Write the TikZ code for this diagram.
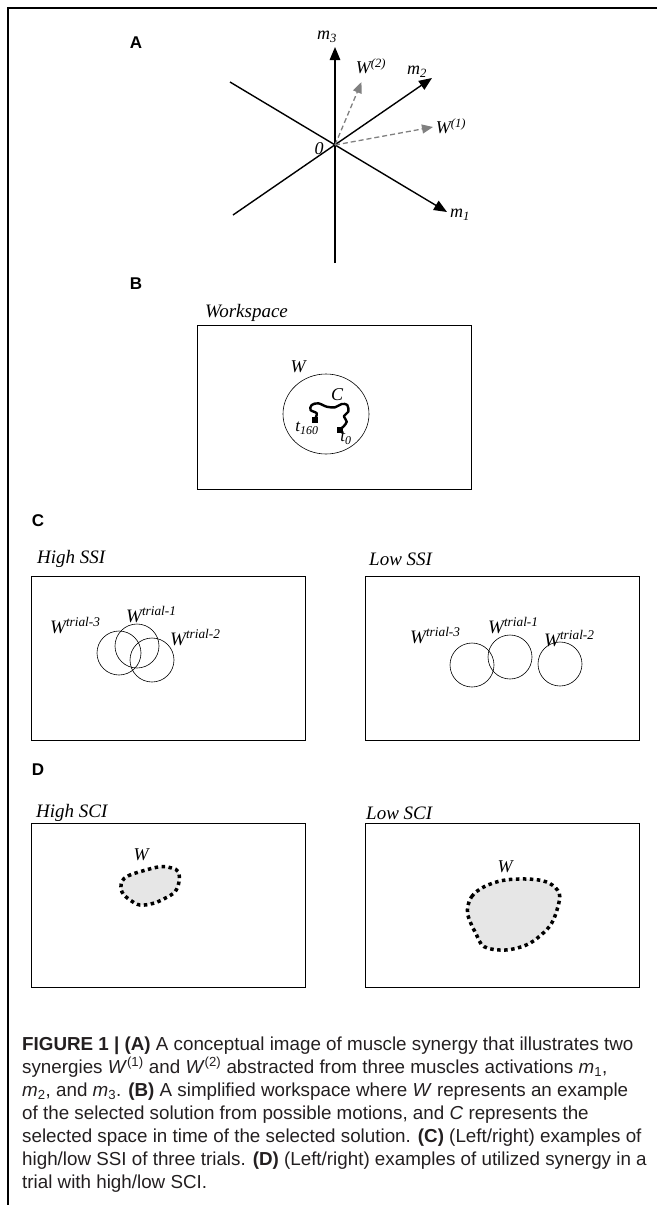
\documentclass[tikz,border=0pt]{standalone}
\usepackage{fontspec}
\setmainfont{Liberation Serif}
\setsansfont{Liberation Sans}
\usetikzlibrary{arrows.meta,shapes.geometric}
\definecolor{capgray}{HTML}{231F20}
\definecolor{blobfill}{HTML}{E6E6E6}
\definecolor{dashgray}{HTML}{808080}
\tikzset{
  lbl/.style={font=\fontsize{18}{20}\selectfont\itshape, inner sep=0pt},
  ttl/.style={font=\fontsize{19}{22}\selectfont\itshape, inner sep=0pt, anchor=west},
  panel/.style={font=\fontsize{17}{20}\selectfont\sffamily\bfseries, inner sep=0pt},
  axisarrow/.style={line width=1.4pt, -{Triangle[length=13pt,width=10.5pt]}},
  synarrow/.style={line width=1.3pt, draw=dashgray, dash pattern=on 5pt off 3pt, -{Triangle[length=11pt,width=9pt,fill=dashgray]}},
  boxst/.style={draw, line width=1.1pt, anchor=north west, minimum width=274pt, minimum height=164pt, inner sep=0pt},
  trialcirc/.style={draw, circle, line width=0.6pt, minimum size=44pt, inner sep=0pt},
  captxt/.style={font=\fontsize{18.8}{20}\selectfont\sffamily, text=capgray, anchor=base west, inner sep=0pt},
  blobst/.style={fill=blobfill, draw=black, line width=3.5pt, dash pattern=on 3.5pt off 3.5pt},
  sq/.style={fill=black, minimum size=5.5pt, inner sep=0pt}
}
\begin{document}
\begin{tikzpicture}[x=1pt,y=-1pt]
\useasboundingbox (0,0) rectangle (657,1205);
% frame
\coordinate (fTR) at (657,8);
\coordinate (fTL) at (8,8);
\coordinate (fBL) at (8,1205);
\draw[line width=2.2pt] (fTR) -- (fTL) -- (fBL);

% ---------------- Panel A
\node[panel] (labA) at (136,43) {A};
\coordinate (O) at (335,145);
\coordinate (m3b) at (335,263);
\coordinate (m3t) at (335,47);
\coordinate (m2b) at (233,215);
\coordinate (m2t) at (432,78);
\coordinate (m1b) at (230,82);
\coordinate (m1t) at (447,212);
\coordinate (w2t) at (361.5,82);
\coordinate (w1t) at (433,127);
\draw[axisarrow] (m3b) -- (m3t);
\draw[axisarrow] (m2b) -- (m2t);
\draw[axisarrow] (m1b) -- (m1t);
\draw[synarrow] (O) -- (w2t);
\draw[synarrow] (O) -- (w1t);
\node[lbl] (lm3) at (327,37) {m\textsubscript{3}};
\node[lbl] (lm2) at (417,72) {m\textsubscript{2}};
\node[lbl] (lm1) at (460,215) {m\textsubscript{1}};
\node[lbl] (lw2) at (371,66) {W\textsuperscript{(2)}};
\node[lbl] (lw1) at (451,126) {W\textsuperscript{(1)}};
\node[lbl] (l0) at (319,149) {0};

% ---------------- Panel B
\node[panel] (labB) at (136,284) {B};
\node[ttl] (tws) at (205,313) {Workspace};
\node[boxst] (boxB) at (197,325) {};
\node[draw, ellipse, line width=0.6pt, minimum width=86pt, minimum height=80pt, inner sep=0pt] (ellW) at (326,414) {};
\node[lbl] (lWB) at (298,367) {W};
\node[lbl] (lCB) at (337,395) {C};
\node[sq] (s160) at (315,420) {};
\node[sq] (s0) at (340,430) {};
\draw[line width=2.4pt, line cap=round, line join=round] plot[smooth, tension=0.55] coordinates {(315,419) (316.7,413.3) (310.5,410) (311.7,405) (318.3,403.3) (326.7,406.7) (335,407.3) (341.7,404) (347.3,405) (348.3,411.7) (344,416) (346.7,421.7) (343.3,426.7) (340,429.3)};
\node[lbl, font=\fontsize{17}{20}\selectfont\itshape] (lt160) at (307,428) {t\textsubscript{160}};
\node[lbl, font=\fontsize{17}{20}\selectfont\itshape] (lt0) at (346,438) {t\textsubscript{0}};

% ---------------- Panel C
\node[panel] (labC) at (38,521) {C};
\node[ttl] (thssi) at (37,559) {High SSI};
\node[ttl] (tlssi) at (369,559) {Low SSI};
\node[boxst] (boxC1) at (31,576) {};
\node[boxst] (boxC2) at (365,576) {};
\node[trialcirc] (hc3) at (119,653) {};
\node[trialcirc] (hc1) at (137,646) {};
\node[trialcirc] (hc2) at (152,660) {};
\node[lbl, anchor=base west, font=\fontsize{19}{22}\selectfont\itshape] (hl3) at (50,633) {W\textsuperscript{trial-3}};
\node[lbl, anchor=base west, font=\fontsize{19}{22}\selectfont\itshape] (hl1) at (126,622) {W\textsuperscript{trial-1}};
\node[lbl, anchor=base west, font=\fontsize{19}{22}\selectfont\itshape] (hl2) at (170,645) {W\textsuperscript{trial-2}};
\node[trialcirc] (lc3) at (472,665) {};
\node[trialcirc] (lc1) at (510,657) {};
\node[trialcirc] (lc2) at (560,664) {};
\node[lbl, anchor=base west, font=\fontsize{19}{22}\selectfont\itshape] (ll3) at (410,643) {W\textsuperscript{trial-3}};
\node[lbl, anchor=base west, font=\fontsize{19}{22}\selectfont\itshape] (ll1) at (488,633) {W\textsuperscript{trial-1}};
\node[lbl, anchor=base west, font=\fontsize{19}{22}\selectfont\itshape] (ll2) at (544,646) {W\textsuperscript{trial-2}};

% ---------------- Panel D
\node[panel] (labD) at (38,770) {D};
\node[ttl] (thsci) at (36,813) {High SCI};
\node[ttl] (tlsci) at (366,813) {Low SCI};
\node[boxst] (boxD1) at (31,823) {};
\node[boxst] (boxD2) at (365,823) {};
\draw[blobst] plot[smooth cycle, tension=0.6] coordinates {(121.7,881.7) (128,876) (140,871.7) (160,866.7) (171.7,868) (178.3,871.7) (179,881.7) (175,891.7) (165,898.3) (153.3,903.3) (140,905) (130,900) (122,892)};
\node[lbl] (lWD1) at (141,855) {W};
\draw[blobst] plot[smooth cycle, tension=0.6] coordinates {(467.4,910) (471.6,896.7) (484.2,886.7) (505.3,880) (532.6,879.3) (549.5,883.3) (559.2,893.3) (557.9,906.7) (551.6,923.3) (541,935) (526.3,945) (505.3,950) (484.2,946.7) (475.8,933.3) (469.5,920)};
\node[lbl] (lWD2) at (505,867) {W};

% ---------------- Caption
\node[captxt] (cap1) at (22,1050) {\textbf{FIGURE 1 | (A)} A conceptual image of muscle synergy that illustrates two};
\node[captxt] (cap2) at (22,1073) {synergies \textit{W}\textsuperscript{(1)} and \textit{W}\textsuperscript{(2)} abstracted from three muscles activations \textit{m}\textsubscript{1},};
\node[captxt] (cap3) at (22,1096) {\textit{m}\textsubscript{2}, and \textit{m}\textsubscript{3}. \textbf{(B)} A simplified workspace where \textit{W} represents an example};
\node[captxt] (cap4) at (22,1119) {of the selected solution from possible motions, and \textit{C} represents the};
\node[captxt] (cap5) at (22,1142) {selected space in time of the selected solution. \textbf{(C)} (Left/right) examples of};
\node[captxt] (cap6) at (22,1165) {high/low SSI of three trials. \textbf{(D)} (Left/right) examples of utilized synergy in a};
\node[captxt] (cap7) at (22,1188) {trial with high/low SCI.};
\end{tikzpicture}
\end{document}
